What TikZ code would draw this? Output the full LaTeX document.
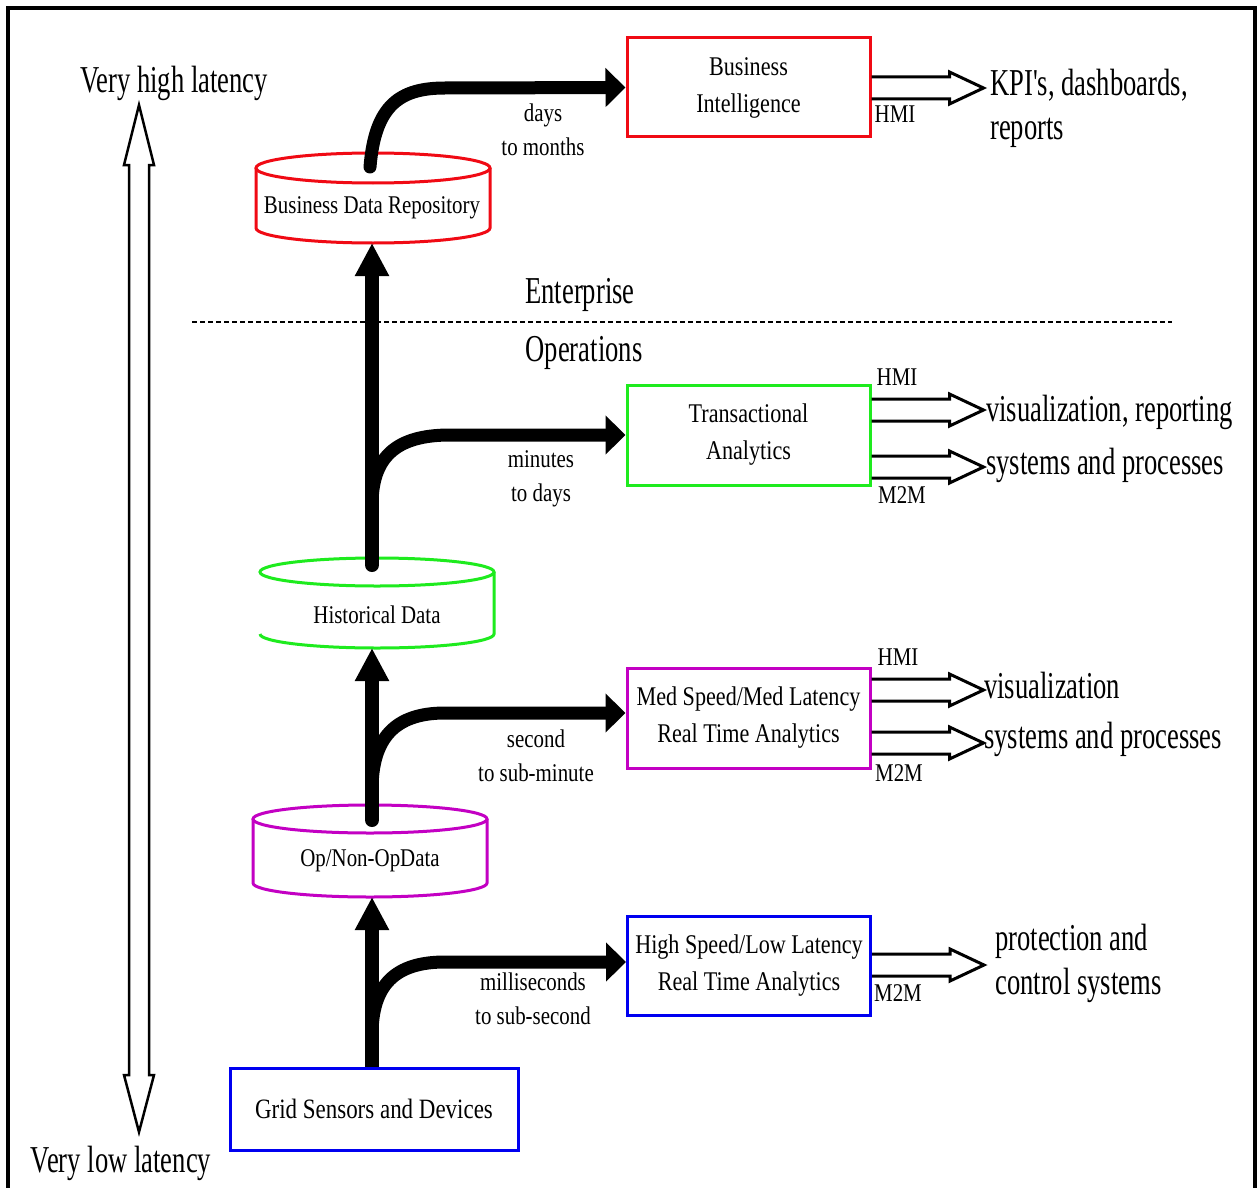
\documentclass[tikz,border=0pt]{standalone}
\usepackage{fontspec}
\setmainfont{Liberation Serif}[FakeStretch=0.82]
\newfontfamily\bigfont{Liberation Serif}[FakeStretch=0.70]
\usetikzlibrary{arrows.meta}
\definecolor{cred}{RGB}{240,10,20}
\definecolor{cgreen}{RGB}{30,235,30}
\definecolor{cmag}{RGB}{195,0,195}
\definecolor{cblue}{RGB}{0,0,240}
% cylinder: cx, top cy, bottom cy, rx, ry, colour
\newcommand{\mycyl}[6]{%
  \draw[#6, line width=3pt] (#1,#2) ellipse [x radius=#4, y radius=#5];
  \draw[#6, line width=3pt] (#1-#4,#2) -- (#1-#4,#3)
     .. controls (#1-#4,#3+0.5523*#5) and (#1-0.5523*#4,#3+#5) .. (#1,#3+#5)
     .. controls (#1+0.5523*#4,#3+#5) and (#1+#4,#3+0.5523*#5) .. (#1+#4,#3)
     -- (#1+#4,#2);}
\newcommand{\mycylnoleft}[6]{%
  \draw[#6, line width=3pt] (#1,#2) ellipse [x radius=#4, y radius=#5];
  \draw[#6, line width=3pt] (#1-#4,#3)
     .. controls (#1-#4,#3+0.5523*#5) and (#1-0.5523*#4,#3+#5) .. (#1,#3+#5)
     .. controls (#1+0.5523*#4,#3+#5) and (#1+#4,#3+0.5523*#5) .. (#1+#4,#3)
     -- (#1+#4,#2);}
% hollow arrow from node east, yshift of upper line
\newcommand{\myharrow}[2]{%
  \draw[hollowst] ([yshift=#2pt]#1.east) -- ++(78,0) -- ++(0,-5) -- ++(34,16)
     -- ++(-34,16) -- ++(0,-5) -- ++(-78,0);}
\begin{document}
\begin{tikzpicture}[x=1pt,y=-1pt,
  box/.style={draw, line width=3pt, minimum width=243pt, minimum height=99pt,
     align=center, inner sep=0pt, font=\fontsize{27}{37}\selectfont},
  lbl/.style={align=center, inner sep=0pt, font=\fontsize{25.5}{34}\selectfont},
  cyltext/.style={inner sep=0pt, font=\fontsize{25.5}{30}\selectfont},
  tag/.style={inner sep=0pt, font=\fontsize{25.5}{30}\selectfont},
  bigtxt/.style={inner sep=0pt, align=left, font=\bigfont\fontsize{38}{44}\selectfont},
  flow/.style={line width=13pt, line cap=round, -{Triangle[length=20pt,width=38pt]}},
  upflow/.style={line width=14pt, -{Triangle[length=33pt,width=32pt]}},
  hollowst/.style={line width=3pt, line join=miter},
]
\useasboundingbox (0,0) rectangle (1258,1188);
\fill[white] (0,0) rectangle (1258,1188);
% frame
\draw[line width=4pt] (8,1200) -- (8,8) -- (1255,8) -- (1255,1200);

% latency double arrow
\draw[line width=2.5pt, line join=miter] (139,105) -- (154,165) -- (149,165) -- (149,1075)
  -- (154,1075) -- (139,1132) -- (124,1075) -- (129,1075) -- (129,165) -- (124,165) -- cycle;
\node[bigtxt, anchor=base] (vhl) at (174,93) {Very high latency};
\node[bigtxt, anchor=base] (vll) at (121,1172) {Very low latency};

% enterprise / operations
\draw[line width=2pt, dash pattern=on 5pt off 3pt] (192,322) -- (1172,322);
\node[bigtxt, anchor=base] (ent) at (580,303) {Enterprise};
\node[bigtxt, anchor=base] (ops) at (584,361) {Operations};

% boxes
\node[box, draw=cred] (bi) at (748.5,87.5) {Business\\Intelligence};
\node[box, draw=cgreen, minimum height=100pt] (trans) at (748.5,435) {Transactional\\Analytics};
\node[box, draw=cmag, minimum height=100pt] (med) at (748.5,718) {Med Speed/Med Latency\\Real Time Analytics};
\node[box, draw=cblue] (hs) at (749,965.5) {High Speed/Low Latency\\Real Time Analytics};
\node[box, draw=cblue, minimum width=288pt, minimum height=82pt,
      font=\fontsize{28}{34}\selectfont] (grid) at (374,1109) {Grid Sensors and Devices};

% cylinders
\mycyl{373}{168}{228}{117}{15}{cred}
\mycylnoleft{377}{572}{634}{117}{14}{cgreen}
\mycyl{370}{819}{883}{117}{14}{cmag}
\node[cyltext] (bdr) at (372,208) {Business Data Repository};
\node[cyltext] (hist) at (377,615) {Historical Data};
\node[cyltext] (op) at (370,861) {Op/Non-OpData};

\coordinate (bdrtop) at (370,167);
\coordinate (bdrbot) at (372,243);
\coordinate (histtop) at (372,565);
\coordinate (histbot) at (372,648);
\coordinate (optop) at (372,820);
\coordinate (opbot) at (372,897);
\coordinate (b1) at (372,1035);
\coordinate (b2) at (372,790);
\coordinate (b3) at (372,505);

% thick flows
\draw[upflow] (opbot |- grid.north) -- (opbot);
\draw[flow] (b1) .. controls (372,985) and (395,962) .. (445,962) -- ([yshift=3.5pt]hs.west);
\draw[upflow, line cap=round] (optop) -- (histbot);
\draw[flow] (b2) .. controls (372,738) and (395,713) .. (445,713) -- ([yshift=5pt]med.west);
\draw[upflow, line cap=round] (histtop) -- (bdrbot);
\draw[flow] (b3) .. controls (372,458) and (395,435) .. (450,435) -- (trans.west);
\draw[flow] (bdrtop) .. controls (375,105) and (400,88) .. (445,88) -- (bi.west);

% time labels
\node[lbl] (l1) at (543,130) {days\\to months};
\node[lbl] (l2) at (541,479) {minutes\\to days};
\node[lbl] (l3) at (536,756) {second\\to sub-minute};
\node[lbl] (l4) at (533,999) {milliseconds\\to sub-second};

% hollow output arrows
\myharrow{bi}{10.5}
\myharrow{trans}{36}
\myharrow{trans}{-21}
\myharrow{med}{39}
\myharrow{med}{-14}
\myharrow{hs}{11.5}

% tags
\node[tag] (t1) at (895,114) {HMI};
\node[tag] (t2) at (897,377) {HMI};
\node[tag] (t3) at (902,495) {M2M};
\node[tag] (t4) at (898,657) {HMI};
\node[tag] (t5) at (899,773) {M2M};
\node[tag] (t6) at (898,993) {M2M};

% outputs
\node[bigtxt, anchor=west] (o1) at (990,108) {KPI's, dashboards,\\reports};
\node[bigtxt, anchor=base west] (o2) at (986,421) {visualization, reporting};
\node[bigtxt, anchor=base west] (o3) at (986,474) {systems and processes};
\node[bigtxt, anchor=base west] (o4) at (984,698) {visualization};
\node[bigtxt, anchor=base west] (o5) at (984,748) {systems and processes};
\node[bigtxt, anchor=west] (o6) at (995,963) {protection and\\control systems};
\end{tikzpicture}
\end{document}
